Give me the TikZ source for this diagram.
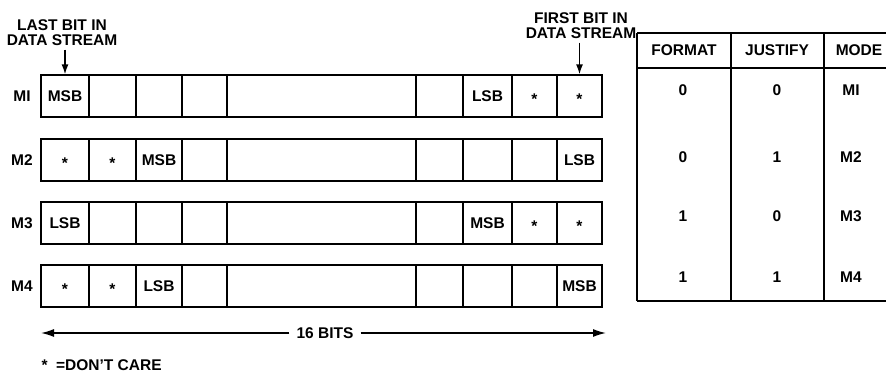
\documentclass[tikz,border=0pt]{standalone}
\usepackage{fontspec}
\setmainfont{Liberation Sans}
\usetikzlibrary{positioning,arrows.meta}
\newcommand{\dcare}{\raisebox{-2.5pt}{*}}
\tikzset{
 bitcell/.style={draw, line width=1.3pt, minimum height=42pt, inner sep=0pt, text height=11pt, text depth=0pt},
 rowlbl/.style={anchor=center},
 tblline/.style={line width=1.3pt},
 ptrarrow/.style={-{Latex[length=10pt,width=7pt]}, line width=1.4pt},
 bitsarrow/.style={-{Latex[length=13pt,width=8pt]}, line width=1.4pt}
}

\begin{document}
\begin{tikzpicture}[x=1pt, y=-1pt, font=\fontsize{15.5}{15}\selectfont\bfseries]
\useasboundingbox (0,0) rectangle (886,375);

% mode MI
\node[rowlbl] (m1) at (22,96) {MI};
\foreach \xa/\xb/\txt [count=\c] in {41/89/MSB,89/136/{},136/182/{},182/227/{},227/416/{},416/463/{},463/512/LSB,512/557/\dcare,557/602/\dcare}
 \node[bitcell, minimum width={\xb-\xa}] (r1c\c) at ({(\xa+\xb)/2},96) {\txt};
% mode M2
\node[rowlbl] (m2) at (22,160) {M2};
\foreach \xa/\xb/\txt [count=\c] in {41/89/\dcare,89/136/\dcare,136/182/MSB,182/227/{},227/416/{},416/463/{},463/512/{},512/557/{},557/602/LSB}
 \node[bitcell, minimum width={\xb-\xa}] (r2c\c) at ({(\xa+\xb)/2},160) {\txt};
% mode M3
\node[rowlbl] (m3) at (22,223) {M3};
\foreach \xa/\xb/\txt [count=\c] in {41/89/LSB,89/136/{},136/182/{},182/227/{},227/416/{},416/463/{},463/512/MSB,512/557/\dcare,557/602/\dcare}
 \node[bitcell, minimum width={\xb-\xa}] (r3c\c) at ({(\xa+\xb)/2},223) {\txt};
% mode M4
\node[rowlbl] (m4) at (22,286) {M4};
\foreach \xa/\xb/\txt [count=\c] in {41/89/\dcare,89/136/\dcare,136/182/LSB,182/227/{},227/416/{},416/463/{},463/512/{},512/557/{},557/602/MSB}
 \node[bitcell, minimum width={\xb-\xa}] (r4c\c) at ({(\xa+\xb)/2},286) {\txt};

% stream pointers
\node[align=center] (lastbit) at (62,33) {LAST BIT IN\\DATA STREAM};
\node[align=center] (firstbit) at (581,26) {FIRST BIT IN\\DATA STREAM};
\draw[ptrarrow] (lastbit.south -| r1c1.north) -- (r1c1.north);
\draw[ptrarrow] (firstbit.south -| r1c9.north) -- (r1c9.north);

% word length
\node[inner xsep=7pt] (bits) at (325,333) {16 BITS};
\coordinate (bitsL) at (41,333);
\coordinate (bitsR) at (606,333);
\draw[bitsarrow] (bits.west) -- (bitsL);
\draw[bitsarrow] (bits.east) -- (bitsR);
\node[anchor=west] (note) at (38,365) {*\ \ =DON'T CARE};

% mode table
\draw[tblline] (637,33) -- (886,33);
\draw[tblline] (637,68) -- (886,68);
\draw[tblline] (637,301) -- (886,301);
\draw[tblline] (637,33) -- (637,301);
\draw[tblline] (731,33) -- (731,301);
\draw[tblline] (824,33) -- (824,301);
\node (hfmt) at (684,50) {FORMAT};
\node (hjst) at (777,50) {JUSTIFY};
\node (hmode) at (859,50) {MODE};
\foreach \fm/\js/\md/\yy [count=\r] in {0/0/MI/90,0/1/M2/157,1/0/M3/216,1/1/M4/277}{
 \node (fmt\r) at (683,\yy) {\fm};
 \node (jst\r) at (777,\yy) {\js};
 \node (mode\r) at (851,\yy) {\md};
}
\end{tikzpicture}
\end{document}
